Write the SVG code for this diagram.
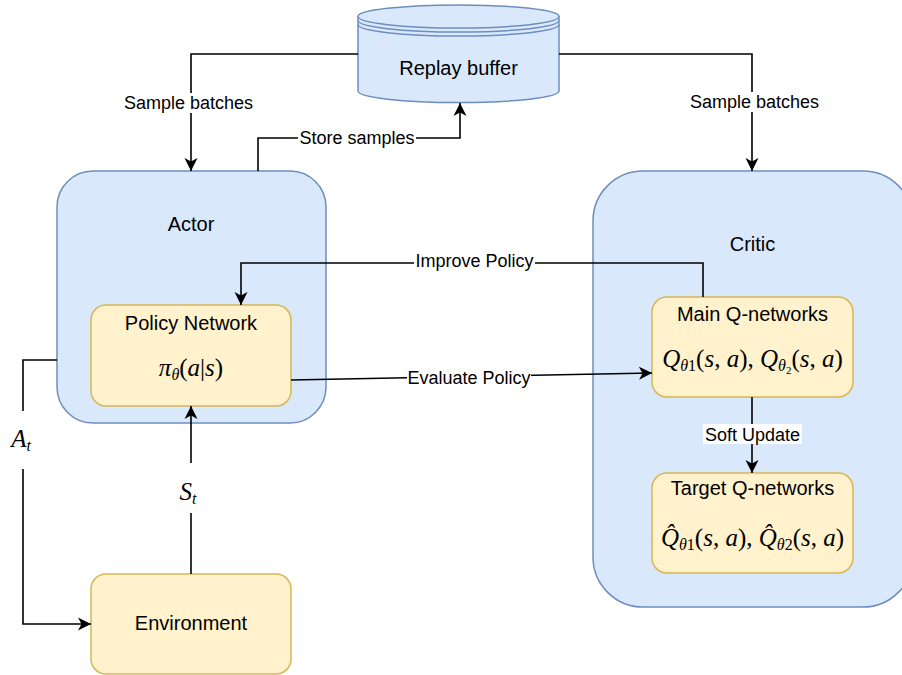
<svg xmlns="http://www.w3.org/2000/svg" width="902" height="675" viewBox="0 0 902 675">
  <style>
    .container { fill: #dae8fc; stroke: #6c8ebf; stroke-width: 1.5; }
    .block { fill: #fff2cc; stroke: #d6b656; stroke-width: 1.5; }
    .title { font-family: "Liberation Sans", Arial, sans-serif; font-size: 20px; fill: #000; text-anchor: middle; }
    .label { font-family: "Liberation Sans", Arial, sans-serif; font-size: 18px; fill: #000; text-anchor: middle; }
    .math { font-family: "Liberation Serif", "Times New Roman", serif; font-size: 25px; font-style: italic; fill: #000; text-anchor: middle; }
    .up { font-style: normal; }
    .sub { font-size: 16px; }
    .subsub { font-size: 11px; }
    .edge { fill: none; stroke: #000; stroke-width: 1.6; }
    .bg { fill: #fff; }
  </style>
  <defs>
    <marker id="arrow" markerUnits="userSpaceOnUse" markerWidth="14" markerHeight="14" viewBox="0 0 14 14" refX="13" refY="7" orient="auto">
      <path d="M0,0.5 L13,7 L0,13.5 L3.5,7 Z" fill="#000"/>
    </marker>
  </defs>

  <!-- Replay buffer (data store cylinder) -->
  <g id="replay-buffer">
    <path class="container" d="M358,16.5 A100.5,11.5 0 0 1 559,16.5 L559,91 A100.5,11.5 0 0 1 358,91 Z"/>
    <path fill="none" stroke="#6c8ebf" stroke-width="1.5" d="M358,16.5 A100.5,11.5 0 0 0 559,16.5 M358,20.5 A100.5,11.5 0 0 0 559,20.5 M358,24.5 A100.5,11.5 0 0 0 559,24.5"/>
    <text class="title" x="458.5" y="75">Replay buffer</text>
  </g>

  <!-- Actor -->
  <g id="actor">
    <rect class="container" x="57" y="171" width="269" height="252" rx="36" ry="36"/>
    <text class="title" x="191" y="231">Actor</text>
  </g>

  <!-- Critic -->
  <g id="critic">
    <rect class="container" x="593" y="171" width="320" height="436" rx="50" ry="50"/>
    <text class="title" x="752.5" y="251">Critic</text>
  </g>

  <!-- Policy network -->
  <g id="policy-network">
    <rect class="block" x="91" y="305" width="200" height="101" rx="15" ry="15"/>
    <text class="title" x="191" y="330">Policy Network</text>
    <text class="math" x="191" y="376">π<tspan class="sub" dy="4">θ</tspan><tspan class="up" dy="-4">(</tspan>a<tspan class="up">|</tspan>s<tspan class="up">)</tspan></text>
  </g>

  <!-- Main Q-networks -->
  <g id="main-q">
    <rect class="block" x="652" y="297" width="201" height="100" rx="15" ry="15"/>
    <text class="title" x="752.5" y="321">Main Q-networks</text>
    <text class="math" x="752.5" y="367">Q<tspan class="sub" dy="4">θ</tspan><tspan class="sub up">1</tspan><tspan class="up" dy="-4">(</tspan>s<tspan class="up">, </tspan>a<tspan class="up">), </tspan>Q<tspan class="sub" dy="4">θ</tspan><tspan class="subsub up" dy="3">2</tspan><tspan class="up" dy="-7">(</tspan>s<tspan class="up">, </tspan>a<tspan class="up">)</tspan></text>
  </g>

  <!-- Target Q-networks -->
  <g id="target-q">
    <rect class="block" x="652" y="473" width="201" height="100" rx="15" ry="15"/>
    <text class="title" x="752.5" y="495">Target Q-networks</text>
    <text class="math" x="752.5" y="546">Q̂<tspan class="sub" dy="4">θ</tspan><tspan class="sub up">1</tspan><tspan class="up" dy="-4">(</tspan>s<tspan class="up">, </tspan>a<tspan class="up">), </tspan>Q̂<tspan class="sub" dy="4">θ</tspan><tspan class="sub up">2</tspan><tspan class="up" dy="-4">(</tspan>s<tspan class="up">, </tspan>a<tspan class="up">)</tspan></text>
  </g>

  <!-- Environment -->
  <g id="environment">
    <rect class="block" x="91" y="574" width="200" height="100" rx="15" ry="15"/>
    <text class="title" x="191" y="630">Environment</text>
  </g>

  <!-- Connectors -->
  <g id="connectors">
    <!-- buffer to actor -->
    <path class="edge" d="M358,54 L191,54 L191,171" marker-end="url(#arrow)"/>
    <rect class="bg" x="123" y="93" width="131" height="20"/>
    <text class="label" x="188.5" y="109">Sample batches</text>

    <!-- buffer to critic -->
    <path class="edge" d="M559,54 L752,54 L752,171" marker-end="url(#arrow)"/>
    <rect class="bg" x="689" y="92" width="131" height="20"/>
    <text class="label" x="754.5" y="108">Sample batches</text>

    <!-- actor to buffer -->
    <path class="edge" d="M258,171 L258,138 L460,138 L460,103" marker-end="url(#arrow)"/>
    <rect class="bg" x="298" y="128" width="118" height="20"/>
    <text class="label" x="357" y="144">Store samples</text>

    <!-- critic to policy -->
    <path class="edge" d="M703,297 L703,263 L241,263 L241,305" marker-end="url(#arrow)"/>
    <rect class="bg" x="414" y="252" width="121" height="20"/>
    <text class="label" x="474.5" y="267">Improve Policy</text>

    <!-- policy to critic -->
    <path class="edge" d="M291,380 L652,373" marker-end="url(#arrow)"/>
    <rect class="bg" x="407" y="367" width="124" height="20"/>
    <text class="label" x="469" y="384">Evaluate Policy</text>

    <!-- main to target -->
    <path class="edge" d="M752,397 L752,473" marker-end="url(#arrow)"/>
    <rect class="bg" x="703" y="424" width="99" height="20"/>
    <text class="label" x="752.5" y="441">Soft Update</text>

    <!-- environment state to policy -->
    <path class="edge" d="M191,574 L191,406" marker-end="url(#arrow)"/>
    <rect class="bg" x="170" y="463" width="40" height="50"/>
    <text class="math" x="188" y="500">S<tspan class="sub" dy="4">t</tspan></text>

    <!-- actor action to environment -->
    <path class="edge" d="M57,360 L23,360 L23,624 L91,624" marker-end="url(#arrow)"/>
    <rect class="bg" x="4" y="411" width="38" height="58"/>
    <text class="math" x="21" y="447">A<tspan class="sub" dy="4">t</tspan></text>
  </g>
</svg>
